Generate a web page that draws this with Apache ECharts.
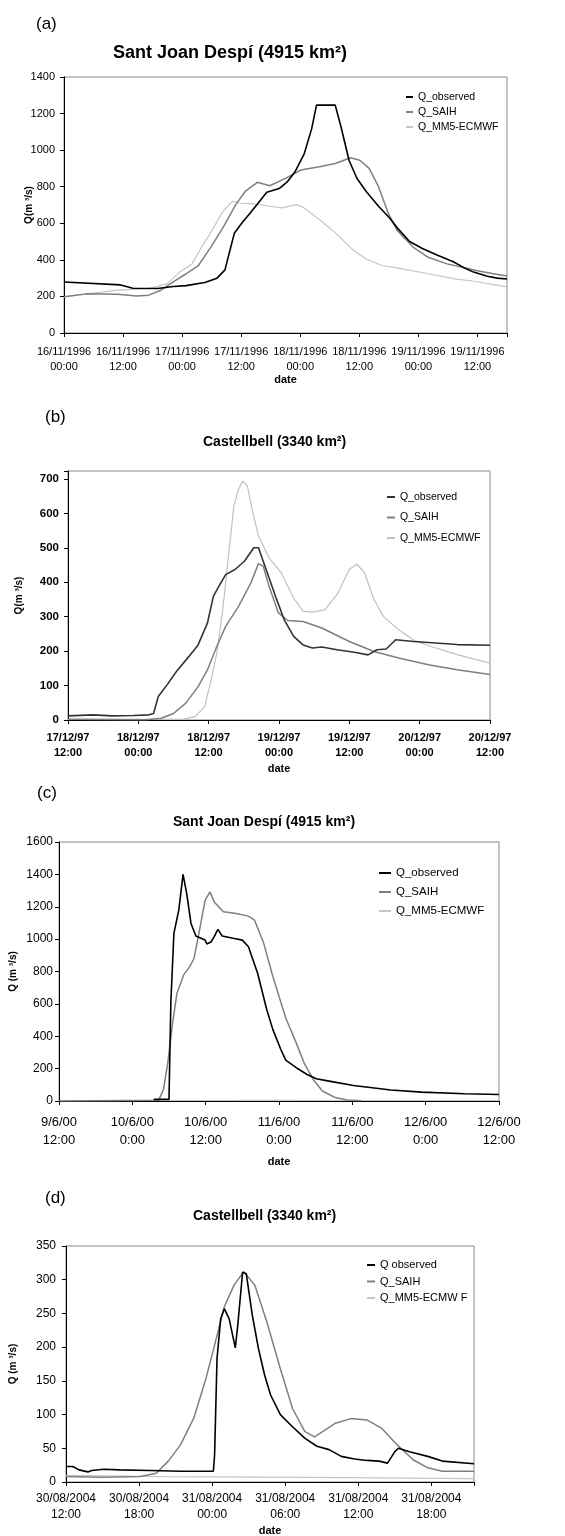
<!DOCTYPE html>
<html>
<head>
<meta charset="utf-8">
<script src="https://cdn.jsdelivr.net/npm/echarts@6/dist/echarts.min.js"></script>
<style>
  html, body { margin: 0; padding: 0; background: #fff; }
  .panel { position: absolute; left: 0; width: 565px; }
</style>
</head>
<body>
<div id="pa" class="panel" style="top:0;height:390px"></div>
<div id="pb" class="panel" style="top:390px;height:388px"></div>
<div id="pc" class="panel" style="top:778px;height:400px"></div>
<div id="pd" class="panel" style="top:1178px;height:358px"></div>
<script>
// hours since first tick, discharge m3/s

// (a) Sant Joan Despí, 16/11/1996 00:00 ->
var aTicks = ['16/11/1996\n00:00', '16/11/1996\n12:00', '17/11/1996\n00:00', '17/11/1996\n12:00',
    '18/11/1996\n00:00', '18/11/1996\n12:00', '19/11/1996\n00:00', '19/11/1996\n12:00'];
var aObserved = [[0, 279], [11.5, 263], [14, 245], [19, 243], [22.2, 254], [24.8, 259], [28.6, 276], [31.1, 300],
    [32.7, 345], [33.6, 440], [34.6, 545], [36.1, 600], [37.7, 652], [39.3, 705], [41.2, 770], [43.7, 790],
    [45.3, 825], [46.9, 880], [48.8, 980], [50.3, 1115], [51.3, 1246], [55.1, 1246], [56.3, 1125], [57.9, 945],
    [59.5, 846], [61.4, 774], [63.9, 693], [66.1, 630], [67.7, 575], [70.2, 500], [72.8, 462], [75.9, 425],
    [79.1, 390], [81.6, 352], [83.2, 333], [86, 310], [88, 300], [90, 295]];
var aSaih = [[0, 198], [4.5, 214], [10.9, 212], [14.7, 202], [17.2, 207], [19.7, 234], [22.2, 279], [24.8, 324],
    [27.3, 369], [29.8, 468], [32.3, 576], [34.9, 702], [36.8, 774], [39.3, 824], [41.8, 805], [45, 846],
    [48.1, 891], [51.9, 909], [55.1, 927], [58.2, 958], [60.1, 945], [62, 900], [63.9, 800], [65.8, 660],
    [67.7, 560], [70.9, 470], [74, 414], [77.8, 378], [81.6, 356], [84, 340], [87, 325], [90, 312]];
var aMm5 = [[0, 198], [10.9, 234], [17.2, 243], [21, 270], [23.5, 333], [26, 378], [27.9, 468], [29.8, 549],
    [32.3, 666], [34.2, 720], [35.5, 711], [38.7, 706], [41.8, 693], [44.3, 684], [47.2, 702], [48.8, 684],
    [51.9, 621], [55.1, 549], [58.9, 450], [61.4, 405], [64.6, 369], [67.7, 356], [74, 324], [79.1, 297],
    [83.2, 283], [90, 252]];

// (b) Castellbell, 17/12/97 12:00 ->
var bTicks = ['17/12/97\n12:00', '18/12/97\n00:00', '18/12/97\n12:00', '19/12/97\n00:00',
    '19/12/97\n12:00', '20/12/97\n00:00', '20/12/97\n12:00'];
var bObserved = [[0, 12], [4.3, 15], [7.5, 12], [11.2, 13], [13.8, 15], [14.6, 19], [15.4, 68], [16.9, 102],
    [18.5, 141], [20.6, 184], [22.2, 218], [23.8, 282], [24.8, 359], [25.9, 393], [26.9, 422], [28.5, 437],
    [30.1, 461], [31.7, 500], [32.5, 500], [33.8, 437], [35.4, 359], [36.9, 291], [38.5, 243], [40.1, 218],
    [41.7, 209], [43.3, 212], [45.9, 204], [49.1, 196], [51.2, 189], [52.7, 204], [54.3, 206], [55.9, 233],
    [59, 228], [66.4, 219], [72, 217]];
var bSaih = [[0, 2], [13.3, 1], [15.9, 5], [18, 19], [20.1, 49], [22.2, 97], [23.8, 146], [25.4, 214],
    [26.9, 272], [29.1, 330], [31.2, 398], [32.5, 454], [33.3, 447], [34.3, 388], [35.9, 311], [37.5, 289],
    [40.1, 286], [43.3, 267], [48, 228], [52.2, 199], [56.4, 180], [61.7, 160], [66.4, 146], [72, 132]];
var bMm5 = [[0, 2], [19.6, 2], [21.7, 10], [23.3, 39], [24.3, 107], [25.4, 194], [26.4, 320], [27.5, 495],
    [28.3, 621], [29.1, 670], [29.8, 694], [30.6, 680], [31.4, 612], [32.5, 534], [34.3, 471], [36.4, 427],
    [38.5, 354], [40.1, 316], [41.7, 313], [43.8, 320], [45.9, 364], [48, 437], [49.3, 453], [50.6, 427],
    [52.2, 350], [53.8, 301], [56.4, 262], [59, 232], [61.7, 215], [66.4, 190], [72, 165]];

// (c) Sant Joan Despí, 9/6/00 12:00 ->
var cTicks = ['9/6/00\n12:00', '10/6/00\n0:00', '10/6/00\n12:00', '11/6/00\n0:00',
    '11/6/00\n12:00', '12/6/00\n0:00', '12/6/00\n12:00'];
var cObserved = [[15.5, 10], [18, 10], [18.3, 605], [18.8, 1035], [19.6, 1179], [20.3, 1400], [20.9, 1281],
    [21.6, 1097], [22.4, 1019], [23.9, 994], [24.2, 970], [24.9, 984], [25.4, 1015], [26, 1060], [26.7, 1019],
    [28.5, 1005], [30, 994], [31, 953], [32.5, 789], [34, 564], [35, 441], [36.3, 318], [37.1, 252],
    [39.1, 199], [40.6, 164], [42.1, 137], [44.2, 123], [48.2, 96], [54.3, 68], [59.3, 55], [66.4, 45], [72, 40]];
var cSaih = [[0, 0], [16.3, 5], [17.1, 72], [17.8, 236], [18.6, 482], [19.3, 666], [20.4, 779], [21.4, 830],
    [22.1, 882], [22.9, 1035], [23.9, 1240], [24.7, 1292], [25.4, 1230], [26.9, 1169], [29, 1158], [31, 1142],
    [32, 1117], [33.5, 974], [35, 769], [37.1, 513], [38.6, 379], [40.1, 236], [41.6, 133], [43.1, 62],
    [45.2, 21], [47.2, 6], [49.5, 2]];
var cMm5 = [[29.5, 4], [38.5, 4]];

// (d) Castellbell, 30/08/2004 12:00 ->
var dTicks = ['30/08/2004\n12:00', '30/08/2004\n18:00', '31/08/2004\n00:00', '31/08/2004\n06:00',
    '31/08/2004\n12:00', '31/08/2004\n18:00'];
var dObserved = [[0, 23], [0.56, 23], [1.07, 18], [1.8, 15], [2.1, 17], [3.1, 19], [4.4, 18], [6.9, 17],
    [9.4, 16], [12.1, 16], [12.2, 40], [12.4, 183], [12.7, 242], [13, 257], [13.4, 242], [13.9, 199],
    [14.1, 232], [14.5, 311], [14.8, 309], [15.3, 247], [15.8, 198], [16.3, 159], [16.8, 129], [17.6, 100],
    [18.6, 82], [19.6, 65], [20.6, 53], [21.6, 48], [22.6, 38], [23.7, 34], [24.7, 32], [25.7, 31],
    [26.4, 28], [27, 45], [27.3, 50], [28.2, 45], [29.7, 38], [30.9, 31], [33.5, 27]];
var dSaih = [[0, 8], [3.1, 7], [6.1, 8], [7.4, 13], [8.4, 31], [9.4, 55], [10.5, 95], [11.5, 154],
    [12.2, 203], [13, 260], [13.8, 292], [14.6, 312], [15.5, 292], [16.5, 237], [17.6, 168], [18.6, 109],
    [19.6, 75], [20.4, 67], [21.1, 75], [22.1, 87], [23.4, 94], [24.7, 92], [25.9, 80], [27.2, 55],
    [28.5, 33], [29.7, 21], [30.9, 16], [33.5, 16]];
var dMm5 = [[0, 10], [8, 8], [20, 7], [33.5, 5]];

var FONT = 'Liberation Sans, Arial, sans-serif';

function makePanel(id, p) {
    var chart = echarts.init(document.getElementById(id), null, {renderer: 'canvas'});
    var names = p.names;
    // short line as legend key, no symbol
    var legendData = names.map(function (n) {
        return {name: n, icon: 'rect'};
    });
    var option = {
        animation: false,
        textStyle: {fontFamily: FONT, color: '#000'},
        graphic: [
            {type: 'text', x: p.letter[0], y: p.letter[1],
                style: {text: p.letter[2], font: '17px ' + FONT, fill: '#000', textVerticalAlign: 'middle'}},
            {type: 'text', x: p.title[0], y: p.title[1],
                style: {text: p.title[2], font: 'bold ' + p.title[3] + 'px ' + FONT, fill: '#000', textVerticalAlign: 'middle'}}
        ],
        grid: {
            left: p.grid[0], top: p.grid[1], width: p.grid[2], height: p.grid[3],
            show: true, borderColor: '#888', borderWidth: 1, backgroundColor: 'transparent',
            containLabel: false, outerBoundsMode: 'none'
        },
        legend: {
            orient: 'vertical', left: p.legend[0], top: p.legend[1], itemGap: p.legend[2],
            itemWidth: p.legend[3], itemHeight: 2, selectedMode: false,
            textStyle: {fontFamily: FONT, fontSize: p.legend[4], lineHeight: 12, color: '#000'},
            data: legendData
        },
        xAxis: {
            type: 'value', min: 0, max: p.xmax, interval: p.xint,
            name: 'date', nameLocation: 'middle', nameGap: p.xname, nameMoveOverlap: false,
            nameTextStyle: {fontFamily: FONT, fontWeight: 'bold', fontSize: 11, color: '#000'},
            axisLine: {lineStyle: {color: '#000', width: 1}},
            axisTick: {inside: false, length: 4, lineStyle: {color: '#000'}},
            splitLine: {show: false},
            axisLabel: {
                margin: p.xlab[0], fontSize: p.xlab[1], lineHeight: p.xlab[2], fontWeight: p.bold ? 'bold' : 'normal',
                color: '#000', fontFamily: FONT, showMaxLabel: true, showMinLabel: true,
                formatter: function (v) {
                    if (Math.abs(v / p.xint - Math.round(v / p.xint)) > 1e-6) return '';
                    return p.ticks[Math.round(v / p.xint)] || '';
                }
            }
        },
        yAxis: {
            type: 'value', min: 0, max: p.ymax, interval: p.yint,
            name: p.yname, nameLocation: 'middle', nameRotate: 90, nameGap: p.ynameGap, nameMoveOverlap: false,
            nameTextStyle: {fontFamily: FONT, fontWeight: 'bold', fontSize: 10, color: '#000'},
            axisLine: {show: true, lineStyle: {color: '#000', width: 1}},
            axisTick: {show: true, inside: false, length: 4, lineStyle: {color: '#000'}},
            splitLine: {show: false},
            axisLabel: {
                margin: p.ylab[0], fontSize: p.ylab[1], fontWeight: p.bold ? 'bold' : 'normal',
                color: '#000', fontFamily: FONT,
                formatter: function (v) {
                    return (v % p.yint === 0) ? String(v) : '';
                }
            }
        },
        series: [
            {name: names[0], type: 'line', data: p.data[0], symbol: 'none', z: 4,
                lineStyle: {color: p.colors[0], width: 1.6}, itemStyle: {color: p.colors[0]}},
            {name: names[1], type: 'line', data: p.data[1], symbol: 'none', z: 3,
                lineStyle: {color: p.colors[1], width: 1.5}, itemStyle: {color: p.colors[1]}},
            {name: names[2], type: 'line', data: p.data[2], symbol: 'none', z: 2,
                lineStyle: {color: p.colors[2], width: 1.2}, itemStyle: {color: p.colors[2]}}
        ]
    };
    chart.setOption(option);
}

makePanel('pa', {
    letter: [36, 24, '(a)'], title: [113, 53, 'Sant Joan Despí (4915 km²)', 18],
    grid: [64, 77, 443, 256], legend: [401, 86, 3, 7, 10.5],
    names: ['Q_observed', 'Q_SAIH', 'Q_MM5-ECMWF'],
    colors: ['#000000', '#7f7f7f', '#c6c6c6'],
    xmax: 90, xint: 12, ticks: aTicks, xname: 41, xlab: [11, 11, 15],
    ymax: 1400, yint: 200, yname: 'Q(m ³/s)', ynameGap: 30, ylab: [9, 11],
    data: [aObserved, aSaih, aMm5]
});
makePanel('pb', {
    letter: [45, 27, '(b)'], title: [203, 52, 'Castellbell (3340 km²)', 14],
    grid: [68, 81, 422, 249], legend: [382, 96, 8.5, 8, 10.5],
    names: ['Q_observed', 'Q_SAIH', 'Q_MM5-ECMWF'],
    colors: ['#333333', '#7f7f7f', '#c0c0c0'], bold: true,
    xmax: 72, xint: 12, ticks: bTicks, xname: 43, xlab: [10, 11, 15],
    ymax: 723, yint: 100, yname: 'Q(m ³/s)', ynameGap: 44, ylab: [9, 11.5],
    data: [bObserved, bSaih, bMm5]
});
makePanel('pc', {
    letter: [37, 15, '(c)'], title: [173, 44, 'Sant Joan Despí (4915 km²)', 14],
    grid: [59, 64, 440, 259], legend: [374, 84, 7, 12, 11.5],
    names: ['Q_observed', 'Q_SAIH', 'Q_MM5-ECMWF'],
    colors: ['#000000', '#7f7f7f', '#c6c6c6'],
    xmax: 72, xint: 12, ticks: cTicks, xname: 55, xlab: [12, 13, 18],
    ymax: 1600, yint: 200, yname: 'Q (m ³/s)', ynameGap: 41, ylab: [6, 12],
    data: [cObserved, cSaih, cMm5]
});
makePanel('pd', {
    letter: [45, 20, '(d)'], title: [193, 38, 'Castellbell (3340 km²)', 14],
    grid: [66, 68, 408, 236], legend: [362, 76, 4.5, 8, 11],
    names: ['Q observed', 'Q_SAIH', 'Q_MM5-ECMW F'],
    colors: ['#000000', '#7f7f7f', '#c6c6c6'],
    xmax: 33.5, xint: 6, ticks: dTicks, xname: 43, xlab: [9, 12, 16],
    ymax: 350, yint: 50, yname: 'Q (m ³/s)', ynameGap: 48, ylab: [10, 12],
    data: [dObserved, dSaih, dMm5]
});
</script>
</body>
</html>
